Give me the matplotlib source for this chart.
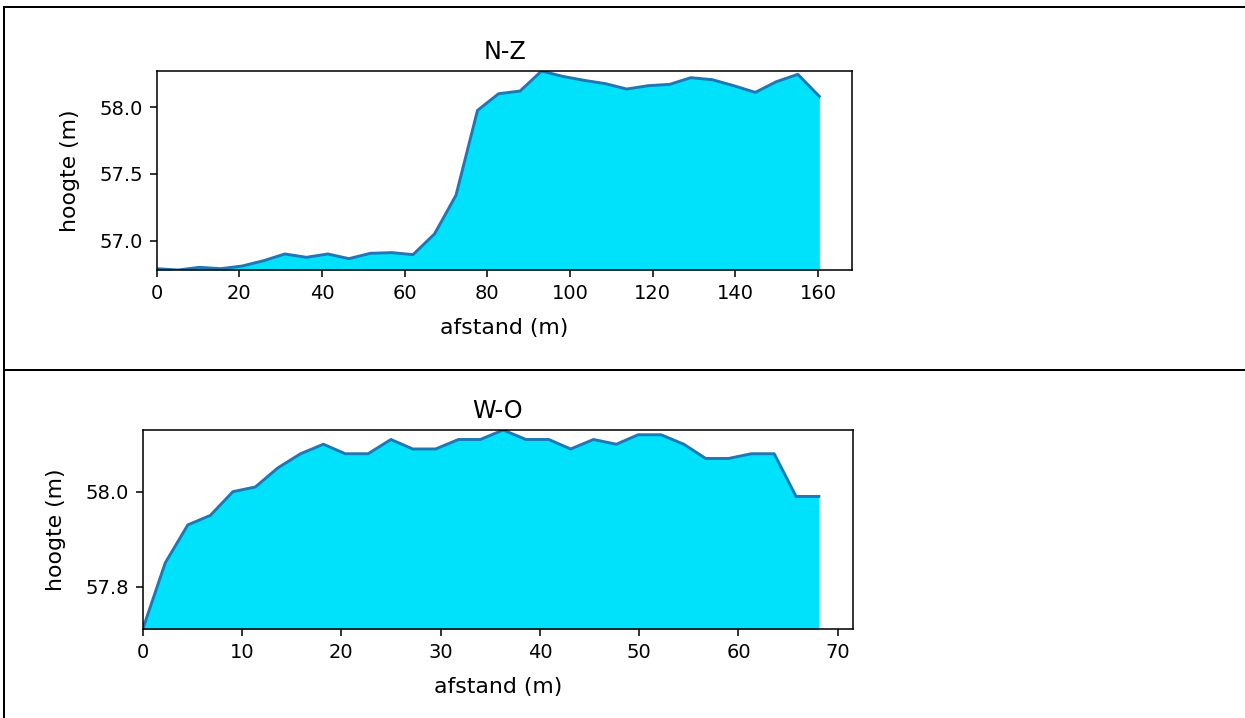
import matplotlib
matplotlib.use("Agg")
import matplotlib.pyplot as plt
from matplotlib.lines import Line2D
from matplotlib.ticker import MultipleLocator, ScalarFormatter

# ---- data: N-Z profile ----
nz_afstand = [0.0, 5.2, 10.3, 15.5, 20.7, 25.9, 31.0, 36.2, 41.4, 46.5, 51.7,
              56.9, 62.0, 67.2, 72.4, 77.6, 82.7, 87.9, 93.1, 98.2, 103.4,
              108.6, 113.7, 118.9, 124.1, 129.2, 134.4, 139.6, 144.8, 149.9,
              155.1, 160.3]
nz_hoogte = [56.79, 56.78, 56.80, 56.79, 56.81, 56.85, 56.90, 56.875, 56.90,
             56.865, 56.905, 56.91, 56.895, 57.05, 57.34, 57.975, 58.10,
             58.12, 58.27, 58.23, 58.20, 58.175, 58.135, 58.16, 58.17, 58.22,
             58.205, 58.16, 58.11, 58.19, 58.245, 58.08]

# ---- data: W-O profile ----
wo_afstand = [0.0, 2.27, 4.54, 6.81, 9.08, 11.35, 13.6, 15.9, 18.2, 20.4, 22.7,
              25.0, 27.2, 29.5, 31.8, 34.0, 36.3, 38.6, 40.9, 43.1, 45.4, 47.7,
              49.9, 52.2, 54.5, 56.7, 59.0, 61.3, 63.6, 65.8, 68.1]
wo_hoogte = [57.71, 57.85, 57.93, 57.95, 58.00, 58.01, 58.05, 58.08, 58.10,
             58.08, 58.08, 58.11, 58.09, 58.09, 58.11, 58.11, 58.13, 58.11,
             58.11, 58.09, 58.11, 58.10, 58.12, 58.12, 58.10, 58.07, 58.07,
             58.08, 58.08, 57.99, 57.99]

titles = ["N-Z", "W-O"]
xlabel = "afstand (m)"
ylabel = "hoogte (m)"

W, H, DPI = 1245, 718, 140
fig = plt.figure(figsize=(W / DPI, H / DPI), dpi=DPI)
fig.patch.set_facecolor("white")

def frac_rect(left, top, right, bottom):
    return [left / W, 1 - bottom / H, (right - left) / W, (bottom - top) / H]

ax1 = fig.add_axes(frac_rect(156.7, 71, 852.5, 270))
ax2 = fig.add_axes(frac_rect(142.7, 430, 852.7, 629.3))

fill_color = "#00e2fb"
line_color = "#1f77b4"

specs = [
    (ax1, nz_afstand, nz_hoogte, titles[0], 20, [57.0, 57.5, 58.0]),
    (ax2, wo_afstand, wo_hoogte, titles[1], 10, [57.8, 58.0]),
]
for ax, xs, ys, title, xstep, yt in specs:
    lo, hi = min(ys), max(ys)
    ax.fill_between(xs, ys, lo, color=fill_color, linewidth=0)
    ax.plot(xs, ys, color=line_color, linewidth=1.5)
    ax.set_xlim(left=0)
    ax.set_ylim(lo, hi)
    ax.xaxis.set_major_locator(MultipleLocator(xstep))
    ax.set_yticks(yt)
    fmt = ScalarFormatter(useOffset=False)
    ax.yaxis.set_major_formatter(fmt)
    ax.set_title(title, fontsize=12.3)
    ax.set_xlabel(xlabel, fontsize=11.3, labelpad=8)
    ax.set_ylabel(ylabel, fontsize=11.3, labelpad=10)

# table borders
lw = 2 * 72 / DPI
def hline(y, x0=4, x1=W):
    fig.add_artist(Line2D([x0 / W, x1 / W], [1 - y / H, 1 - y / H],
                          transform=fig.transFigure, color="black", lw=lw))
def vline(x, y0=7, y1=H):
    fig.add_artist(Line2D([x / W, x / W], [1 - y0 / H, 1 - y1 / H],
                          transform=fig.transFigure, color="black", lw=lw))

hline(7.5)
hline(370)
vline(4)

fig.savefig("out.png", dpi=DPI)
